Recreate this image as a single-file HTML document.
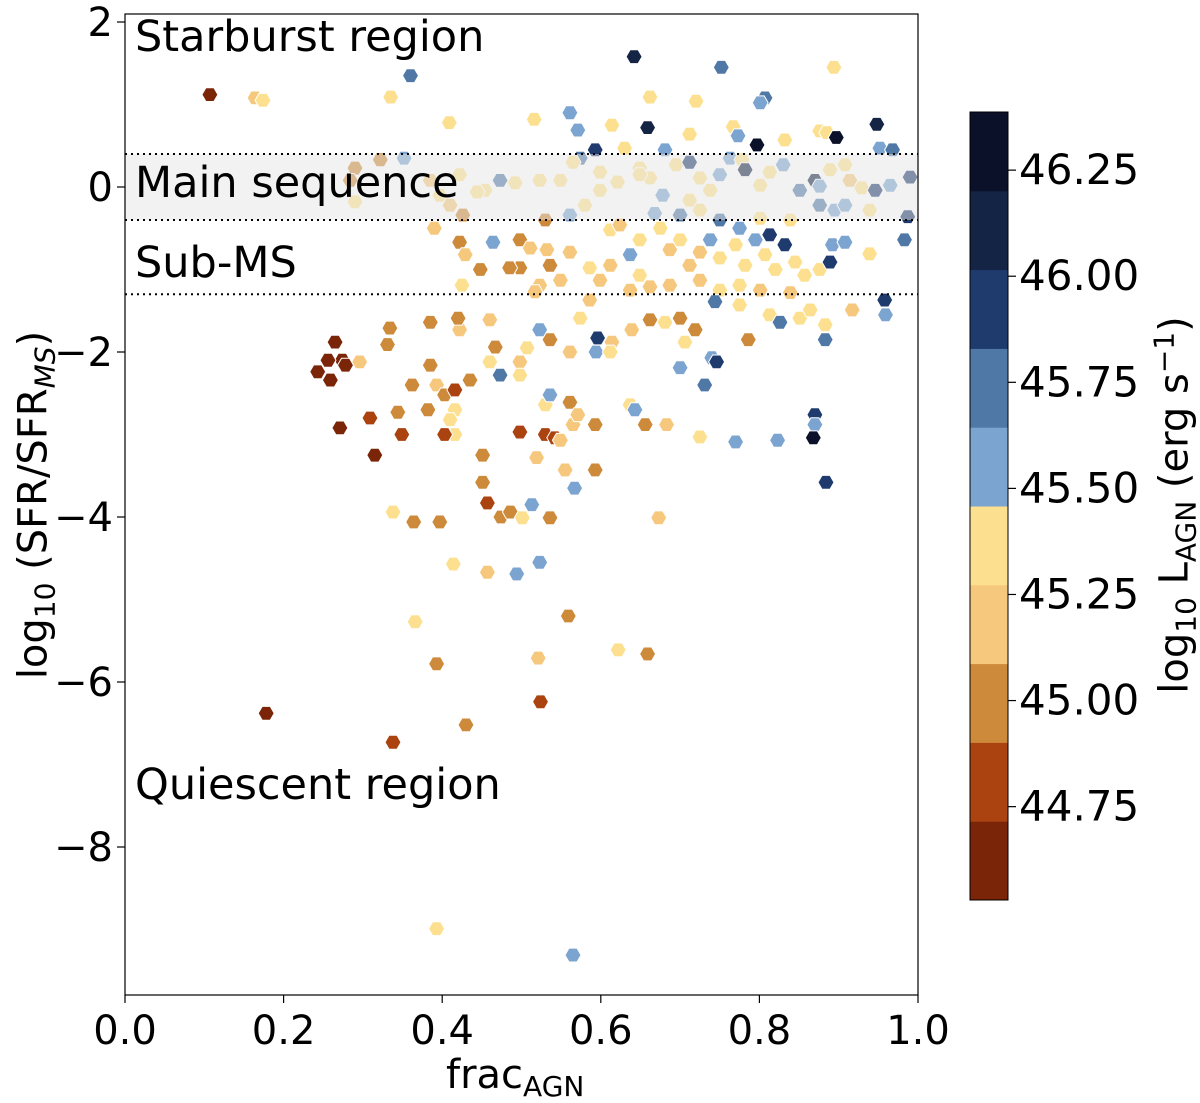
<!DOCTYPE html>
<html><head><meta charset="utf-8"><style>
body{margin:0;background:#fff;}
svg{display:block;font-family:"DejaVu Sans","Liberation Sans",sans-serif;}
</style></head><body>
<svg id="chart" width="1200" height="1099"></svg>
<script>
const fracAGN=[.107,.164,.174,.335,.360,.642,.752,.894,.662,.720,.561,.807,.801,.516,.409,.659,.614,.571,.712,.767,.773,.797,.832,.876,.885,.897,.948,.952,.968,.763,.778,.593,.574,.630,.565,.599,.649,.662,.681,.695,.712,.725,.738,.750,.782,.801,.813,.830,.851,.870,.876,.889,.908,.914,.929,.946,.965,.990,.987,.983,.895,.876,.908,.939,.649,.621,.599,.580,.561,.549,.523,.492,.473,.454,.444,.422,.397,.385,.290,.322,.352,.284,.290,.410,.390,.426,.464,.422,.498,.511,.532,.561,.530,.612,.624,.637,.649,.675,.687,.700,.712,.725,.738,.750,.770,.782,.795,.807,.820,.832,.845,.857,.876,.889,.892,.908,.939,.750,.775,.801,.813,.839,.725,.700,.712,.668,.678,.612,.586,.599,.536,.498,.485,.448,.429,.425,.523,.549,.517,.637,.649,.662,.687,.725,.750,.775,.801,.839,.744,.775,.813,.826,.851,.864,.883,.917,.958,.959,.883,.786,.740,.746,.731,.700,.706,.719,.700,.681,.662,.639,.614,.596,.594,.612,.586,.574,.561,.536,.523,.507,.498,.467,.460,.473,.498,.460,.422,.420,.385,.334,.331,.296,.265,.274,.243,.259,.256,.278,.385,.393,.362,.435,.403,.416,.382,.416,.410,.416,.403,.344,.309,.271,.315,.349,.498,.530,.542,.530,.536,.561,.565,.549,.571,.593,.637,.643,.656,.683,.725,.770,.823,.870,.870,.868,.884,.451,.519,.555,.593,.451,.457,.474,.486,.501,.536,.513,.567,.338,.364,.397,.673,.494,.523,.414,.457,.366,.559,.622,.659,.521,.393,.524,.430,.178,.338,.393,.565];
const logSFR=[1.12,1.08,1.05,1.09,1.35,1.58,1.45,1.45,1.09,1.04,.90,1.08,1.02,.82,.78,.72,.75,.69,.64,.73,.62,.51,.57,.68,.66,.60,.76,.47,.45,.35,.33,.45,.35,.47,.30,.18,.23,.11,.45,.27,.30,.11,-.04,.15,.21,.02,.18,.27,-.04,.08,.01,.21,.27,.08,-.01,-.04,.02,.12,-.36,-.64,-.28,-.22,-.22,-.28,.15,.06,-.04,-.22,-.34,.08,.08,.05,.08,-.04,-.06,.15,-.1,.08,.23,.33,.35,.08,-.18,-.22,-.5,-.34,-.67,-.67,-.64,-.74,-.76,-.79,-.4,-.52,-.46,-.82,-.64,-.5,-.76,-.64,-.95,-.79,-.64,-.86,-.70,-.95,-.64,-.82,-1.0,-.70,-.91,-1.07,-1.0,-.91,-.70,-.67,-.81,-.4,-.5,-.38,-.58,-.4,-.28,-.34,-.16,-.32,-.1,-.95,-.98,-1.13,-.95,-.98,-.98,-1.0,-.82,-1.19,-1.19,-1.13,-1.27,-1.25,-1.07,-1.21,-1.19,-1.13,-1.25,-1.19,-1.25,-1.28,-1.39,-1.43,-1.55,-1.64,-1.59,-1.49,-1.67,-1.49,-1.37,-1.55,-1.85,-1.85,-2.07,-2.12,-2.40,-2.19,-1.88,-1.73,-1.59,-1.64,-1.61,-1.73,-1.88,-1.83,-2.0,-2.0,-1.37,-1.59,-2.0,-1.85,-1.73,-1.95,-2.12,-1.94,-2.12,-2.28,-2.28,-1.61,-1.73,-1.59,-1.64,-1.71,-1.91,-2.12,-1.88,-2.10,-2.24,-2.34,-2.10,-2.16,-2.16,-2.40,-2.40,-2.34,-2.52,-2.46,-2.70,-2.70,-2.82,-3.0,-3.0,-2.73,-2.80,-2.92,-3.25,-3.0,-2.97,-3.0,-3.04,-2.64,-2.52,-2.61,-2.88,-3.07,-2.76,-2.88,-2.64,-2.70,-2.88,-2.88,-3.03,-3.09,-3.07,-2.76,-2.88,-3.04,-3.58,-3.25,-3.28,-3.43,-3.43,-3.58,-3.83,-4.0,-3.94,-4.01,-4.01,-3.85,-3.65,-3.94,-4.06,-4.06,-4.01,-4.69,-4.55,-4.57,-4.67,-5.27,-5.20,-5.61,-5.66,-5.71,-5.78,-6.24,-6.52,-6.38,-6.73,-8.99,-9.31];
const logLAGN=[44.6,45.2,45.3,45.3,45.7,46.2,45.7,45.3,45.3,45.3,45.6,45.7,45.5,45.35,45.3,46.1,45.35,45.6,45.3,45.4,45.6,46.3,45.35,45.35,45.3,46.3,46.1,45.6,45.7,45.5,45.3,45.9,45.7,45.3,45.35,45.3,45.3,45.3,45.5,45.3,45.9,45.35,45.3,45.5,46.1,45.3,45.35,45.6,45.7,46.1,45.6,45.3,45.35,45.2,45.3,45.9,45.5,45.9,45.9,45.7,45.5,45.7,45.6,45.35,45.35,45.3,45.3,45.3,45.5,45.3,45.3,45.35,45.7,45.35,45.3,45.3,45.3,45.2,45.0,45.0,45.6,45.0,45.3,45.2,45.2,45.0,45.6,45.0,45.0,45.2,45.2,45.2,45.0,45.3,45.2,45.6,45.3,45.3,45.2,45.35,45.2,45.2,45.6,45.35,45.35,45.35,45.5,45.3,45.35,45.9,45.3,45.35,45.35,45.9,45.6,45.6,45.35,45.7,45.6,45.35,45.9,45.35,45.3,45.7,45.3,45.6,45.6,45.2,45.35,45.2,45.0,45.0,45.0,45.0,45.2,45.3,45.2,45.2,45.2,45.2,45.35,45.2,45.2,45.2,45.35,45.3,45.2,45.2,45.7,45.35,45.35,45.7,45.35,45.3,45.35,45.2,45.9,45.6,45.7,45.0,45.5,45.9,45.7,45.5,45.35,45.0,45.0,45.35,45.0,45.2,45.2,45.9,45.6,45.35,45.2,45.35,45.2,45.0,45.6,45.35,45.2,45.0,45.35,45.7,45.3,45.2,45.2,45.0,45.0,45.0,45.0,45.2,44.6,44.6,44.6,44.6,44.6,44.6,45.0,45.2,45.0,45.0,45.0,44.8,45.0,45.3,45.3,45.3,44.8,45.0,44.8,44.6,44.6,44.8,44.8,44.8,44.8,45.35,45.5,45.0,45.2,45.2,45.2,45.0,45.35,45.6,45.0,45.2,45.3,45.6,45.6,45.9,45.6,46.3,45.9,45.0,45.2,45.2,45.0,45.0,44.8,45.0,45.0,45.35,45.0,45.5,45.6,45.3,45.0,45.0,45.2,45.6,45.6,45.3,45.2,45.35,45.0,45.35,45.0,45.2,45.0,44.8,45.0,44.6,44.8,45.3,45.6];
const xTicks=[0,0.2,0.4,0.6,0.8,1.0];
const xTickLabels=["0.0","0.2","0.4","0.6","0.8","1.0"];
const yTicks=[2,0,-2,-4,-6,-8];
const yTickLabels=["2","0","\u22122","\u22124","\u22126","\u22128"];
const cbTicks=[46.25,46.0,45.75,45.5,45.25,45.0,44.75];
const cbColors=["#7a2508","#ab4310","#cd8a3a","#f5c87d","#fde08f","#7ca4d0","#5078a6","#1f3b6e","#142445","#0a1128"];
const L0=44.53,L1=46.387;

const NS="http://www.w3.org/2000/svg";
const svg=document.getElementById('chart');
function mk(tag,attrs,parent){const e=document.createElementNS(NS,tag);for(const k in attrs)e.setAttribute(k,attrs[k]);(parent||svg).appendChild(e);return e;}
const PL=125,PR=918,PT=14,PB=995;
const xs=v=>PL+v*(PR-PL);
const ys=v=>22+(2-v)*82.5;
const cbY=v=>900-(v-L0)/(L1-L0)*788;
function colorOf(L){let i=Math.floor((L-L0)/(L1-L0)*10);i=Math.max(0,Math.min(9,i));return cbColors[i];}

const gp=mk('g',{});


for(let i=0;i<fracAGN.length;i++){
  const cx=xs(fracAGN[i]),cy=ys(logSFR[i]),r=8;
  let pts=[];for(let k=0;k<6;k++){const a=k*Math.PI/3;pts.push((cx+r*Math.cos(a)).toFixed(1)+','+(cy+r*Math.sin(a)).toFixed(1));}
  const p=mk('polygon',{points:pts.join(' '),fill:colorOf(logLAGN[i]),stroke:'#fff','stroke-width':1},gp);
  
  
}
const band=mk('rect',{x:PL,y:ys(0.4),width:PR-PL,height:ys(-0.4)-ys(0.4),fill:'#e6e6e6','fill-opacity':0.5});


[0.4,-0.4,-1.3].forEach(v=>{const l=mk('line',{x1:PL,x2:PR,y1:ys(v),y2:ys(v),stroke:'#000','stroke-width':2,'stroke-dasharray':'2,4'});

});
const fr=mk('rect',{x:PL,y:PT,width:PR-PL,height:PB-PT,fill:'none',stroke:'#000','stroke-width':1.2});


xTicks.forEach((v,i)=>{mk('line',{x1:xs(v),x2:xs(v),y1:PB,y2:PB+8,stroke:'#000','stroke-width':1.2});
const t=mk('text',{x:xs(v),y:1044,'font-size':40,'text-anchor':'middle'});t.textContent=xTickLabels[i];

});
yTicks.forEach((v,i)=>{mk('line',{x1:PL-8,x2:PL,y1:ys(v),y2:ys(v),stroke:'#000','stroke-width':1.2});
const t=mk('text',{x:113,y:ys(v)+14,'font-size':40,'text-anchor':'end'});t.textContent=yTickLabels[i];

});
for(let i=0;i<10;i++){const y1=cbY(L0+(i+1)*(L1-L0)/10),y0=cbY(L0+i*(L1-L0)/10);
const r=mk('rect',{x:970,y:y1,width:38,height:y0-y1+0.5,fill:cbColors[i]});

}
mk('rect',{x:970,y:112,width:38,height:788,fill:'none',stroke:'#000','stroke-width':1});
cbTicks.forEach(v=>{mk('line',{x1:1008,x2:1016,y1:cbY(v),y2:cbY(v),stroke:'#000','stroke-width':1.2});
const t=mk('text',{x:1019,y:cbY(v)+14,'font-size':42});t.textContent=v.toFixed(2);

});
</script>
<div style="position:absolute;left:0;top:0;width:1200px;height:1099px;pointer-events:none;font-family:'DejaVu Sans','Liberation Sans',sans-serif;color:#000;">
<div style="position:absolute;left:135px;top:12px;font-size:43px;">Starburst region</div>
<div style="position:absolute;left:135px;top:158px;font-size:43px;">Main sequence</div>
<div style="position:absolute;left:135px;top:238px;font-size:43px;">Sub-MS</div>
<div style="position:absolute;left:135px;top:760px;font-size:43px;">Quiescent region</div>
<div style="position:absolute;left:446px;top:1052px;font-size:40px;">frac<sub style="font-size:28px;vertical-align:-8px;">AGN</sub></div>
<div style="position:absolute;left:36px;top:505px;font-size:40px;white-space:nowrap;transform:translate(-50%,-50%) rotate(-90deg);">log<sub style="font-size:28px;vertical-align:-8px;">10</sub> (SFR/SFR<sub style="font-size:28px;vertical-align:-8px;font-style:italic;">MS</sub>)</div>
<div style="position:absolute;left:1175px;top:505px;font-size:40px;white-space:nowrap;transform:translate(-50%,-50%) rotate(-90deg);">log<sub style="font-size:28px;vertical-align:-8px;">10</sub> L<sub style="font-size:28px;vertical-align:-8px;">AGN</sub> (erg s<sup style="font-size:28px;vertical-align:14px;">−1</sup>)</div>
</div>
</body></html>
